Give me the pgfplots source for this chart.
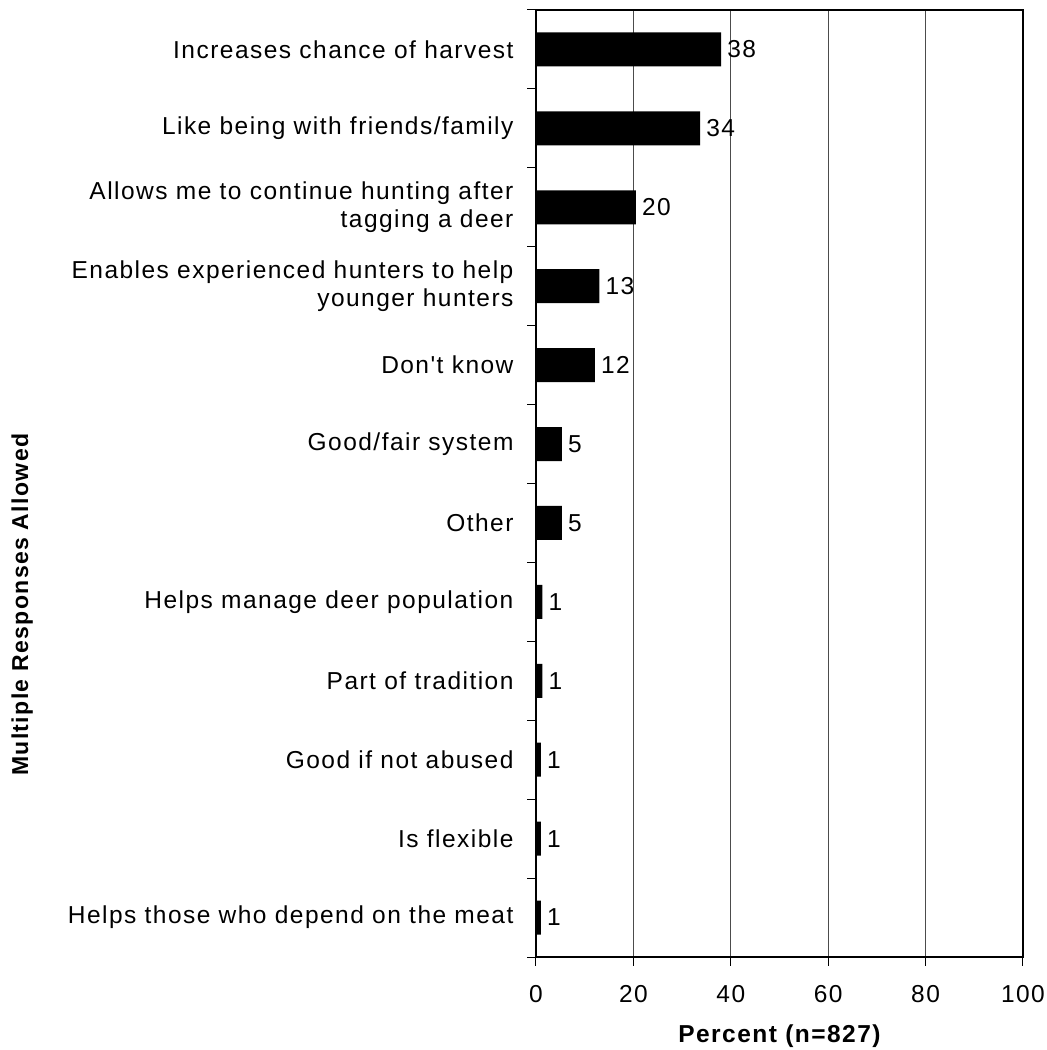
\documentclass[border=0pt]{standalone}
\usepackage{pgfplots}
\pgfplotsset{compat=1.18}
\usepackage{pgfplotstable}
\usepackage{fontspec}
\setmainfont{Liberation Sans}[LetterSpace=6, Ligatures=TeXOff]
\pgfplotstableread{
x y lab
1.0 1 1
1.0 2 1
1.0 3 1
1.3 4 1
1.3 5 1
5.3 6 5
5.3 7 5
12.1 8 12
13 9 13
20.5 10 20
33.7 11 34
38 12 38
}\mydata
\begin{document}
\begin{tikzpicture}[font=\fontsize{24.5}{28}\selectfont]
\begin{axis}[
  at={(0,0)}, anchor=south west,
  scale only axis, width=487pt, height=947pt,
  xmin=0, xmax=100, ymin=0.5, ymax=12.5,
  xbar, bar width=0.43,
  xtick={0,20,...,100},
  minor xtick={0,20,...,100},
  ytick={1,...,12},
  minor ytick={0.5,1.5,...,12.5},
  major tick length=0pt, minor tick length=8.5pt,
  tick align=outside, tick pos=left,
  tick style={black, line width=1pt},
  xmajorgrids, major grid style={black!70, line width=1pt},
  axis line style={line width=1.6pt},
  /pgf/number format/assume math mode=true,
  xticklabel shift=25pt,
  yticklabel shift=19pt,
  yticklabel style={align=right},
  yticklabels={
    {Helps those who depend on the meat},
    {Is flexible},
    {Good if not abused},
    {Part of tradition},
    {Helps manage deer population},
    {Other},
    {Good/fair system},
    {Don't know},
    {Enables experienced hunters to help\\younger hunters},
    {Allows me to continue hunting after\\tagging a deer},
    {Like being with friends/family},
    {Increases chance of harvest}},
  xlabel={\bfseries Percent (n=827)},
  xlabel style={at={(axis description cs:0.5,-0.0835)}, anchor=center},
  ylabel={\bfseries Multiple Responses Allowed},
  ylabel style={at={(axis description cs:-1.055,0.372)}, anchor=center, rotate=0, font=\fontsize{23}{27}\selectfont},
  nodes near coords, point meta=explicit symbolic,
  nodes near coords align=horizontal,
  every node near coord/.append style={font=\fontsize{24.5}{28}\selectfont, black, anchor=west, inner sep=4pt, xshift=2pt},
]
\addplot[fill=black, draw=none] table[x=x, y=y, meta=lab] {\mydata};
\end{axis}
\pgfresetboundingbox
\path (-536pt,-93pt) rectangle (511pt,957pt);
\end{tikzpicture}
\end{document}
